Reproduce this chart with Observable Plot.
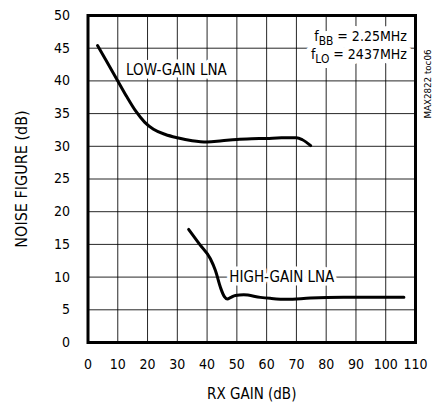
<!DOCTYPE html>
<html><head><meta charset="utf-8">
<script src="https://cdn.jsdelivr.net/npm/d3@7"></script>
<script src="https://cdn.jsdelivr.net/npm/@observablehq/plot@0.6"></script>
<style>
html,body{margin:0;padding:0;background:#fff;}
</style></head><body><div id="chart"></div>
<script>
// ---- data ----
const lowGainX  = [3.2, 6, 10, 13, 16, 19, 22, 26, 30, 35, 40, 45, 50, 55, 60, 65, 70, 72, 74.8];
const lowGainNF = [45.4, 43.2, 40.0, 37.6, 35.4, 33.7, 32.6, 31.8, 31.3, 30.85, 30.65, 30.85, 31.05, 31.15, 31.2, 31.3, 31.3, 31.0, 30.1];
const highGainX  = [33.8, 37.5, 41.1, 42.8, 44.5, 45.8, 46.8, 48, 49.5, 52.3, 57.9, 61.2, 66.8, 74.7, 85.8, 95, 106.1];
const highGainNF = [17.3, 15.0, 12.8, 11.0, 8.4, 7.0, 6.65, 6.9, 7.2, 7.3, 6.9, 6.75, 6.6, 6.8, 6.9, 6.9, 6.9];
const xTicks = [0, 10, 20, 30, 40, 50, 60, 70, 80, 90, 100, 110];
const yTicks = [0, 5, 10, 15, 20, 25, 30, 35, 40, 45, 50];
const curveLabels = [
  {x: 29.7, y: 41.6, text: "LOW-GAIN LNA"},
  {x: 65.1, y: 10.0, text: "HIGH-GAIN LNA"}
];
const condLabels = [
  {x: 107.1, y: 46.8, sym: "f", sub: "BB", rest: " = 2.25MHz"},
  {x: 107.1, y: 44.1, sym: "f", sub: "LO", rest: " = 2437MHz"}
];
const docId = ["MAX2822 toc06"];

const lowRows = lowGainX.map((g, i) => ({gain: g, nf: lowGainNF[i]}));
const highRows = highGainX.map((g, i) => ({gain: g, nf: highGainNF[i]}));

const FONT = '"DejaVu Sans Condensed","Liberation Sans Narrow",sans-serif';
const condText = d => d.sym + d.sub + d.rest;

const plot = Plot.plot({
  width: 444, height: 404,
  marginLeft: 87.5, marginRight: 29, marginTop: 15, marginBottom: 62,
  style: {fontFamily: FONT, fontSize: "14px", background: "#fff", color: "#000", overflow: "visible"},
  x: {domain: [0, 110]},
  y: {domain: [0, 50]},
  marks: [
    Plot.gridX(xTicks, {stroke: "#000", strokeOpacity: 0.85, strokeWidth: 1}),
    Plot.gridY(yTicks, {stroke: "#000", strokeOpacity: 0.85, strokeWidth: 1}),
    Plot.axisX(xTicks, {tickSize: 0, tickPadding: 17, fontSize: 14}),
    Plot.axisX({ticks: [], tickSize: 0, label: "RX GAIN (dB)", labelAnchor: "center", labelArrow: "none", labelOffset: 56, fontSize: 15}),
    Plot.axisY(yTicks, {tickSize: 0, tickPadding: 18, fontSize: 14}),
    Plot.axisY({ticks: [], tickSize: 0, label: "NOISE FIGURE (dB)", labelAnchor: "center", labelArrow: "none", labelOffset: 72, fontSize: 16}),
    Plot.text(curveLabels, {x: "x", y: "y", text: "text", fill: "#000", stroke: "#fff", strokeWidth: 7, fontSize: 15}),
    Plot.text(condLabels, {x: "x", y: "y", text: condText, textAnchor: "end", fill: "#fff", stroke: "#fff", strokeWidth: 10, fontSize: 14, className: "cond"}),
    Plot.text(condLabels, {x: "x", y: "y", text: condText, textAnchor: "end", fill: "#000", fontSize: 14, className: "cond"}),
    Plot.line(lowRows, {x: "gain", y: "nf", curve: "monotone-x", stroke: "#000", strokeWidth: 3}),
    Plot.line(highRows, {x: "gain", y: "nf", curve: "monotone-x", stroke: "#000", strokeWidth: 3}),
    Plot.frame({stroke: "#000", strokeWidth: 3}),
    Plot.text(docId, {frameAnchor: "top-right", dx: 9, dy: 34, rotate: -90, fontSize: 9, fill: "#000", className: "toc"})
  ]
});

// subscripts for the condition labels
d3.select(plot).selectAll("g.cond").each(function() {
  d3.select(this).selectAll("text").each(function(_, i) {
    const d = condLabels[i];
    const t = d3.select(this);
    t.text(null);
    t.append("tspan").text(d.sym);
    t.append("tspan").attr("dy", 4).attr("font-size", "0.85em").text(d.sub);
    t.append("tspan").attr("dy", -4).text(d.rest);
  });
});
d3.select(plot).selectAll("g.toc text").attr("textLength", 69).attr("lengthAdjust", "spacingAndGlyphs");

document.getElementById("chart").appendChild(plot);
</script>
</body></html>
